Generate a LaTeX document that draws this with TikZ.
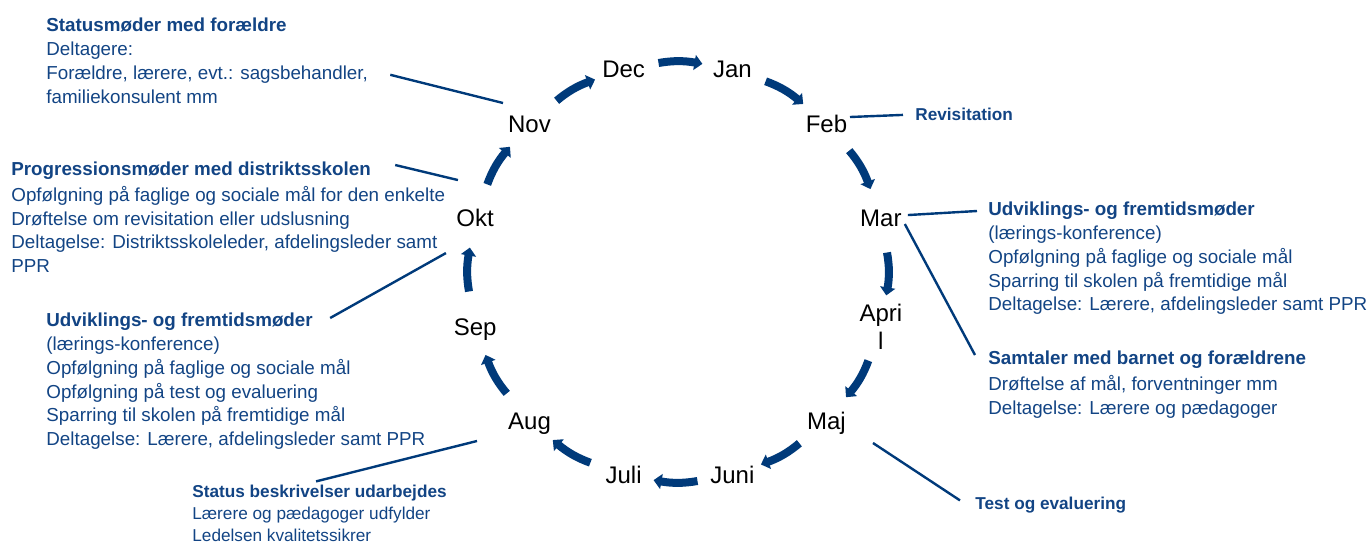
\documentclass[tikz,border=0pt]{standalone}
\usepackage{fontspec}
\setmainfont{Liberation Sans}
\usepackage{tikz}
\usetikzlibrary{arrows.meta,positioning}
\definecolor{arrblue}{RGB}{0,58,122}
\definecolor{txtblue}{RGB}{18,68,132}
\tikzset{month/.style={circle, minimum size=30pt, inner sep=0pt, font=\fontsize{12}{14}\selectfont, text height=8.7pt, text depth=0pt}}
\tikzset{arr/.style={draw=arrblue, line width=4pt, shorten <=2.5pt, -{Triangle[length=4pt,width=7.5pt]}}}
\tikzset{lead/.style={draw=arrblue, line width=1.2pt}}
\tikzset{head/.style={inner sep=0pt, anchor=base west, text=txtblue, font=\bfseries\fontsize{9.4}{11.8}\selectfont, text height=7pt, text depth=2.5pt}}
\tikzset{info/.style={inner sep=0pt, align=left, text=txtblue, font=\fontsize{9.4}{11.8}\selectfont}}
\tikzset{smallhead/.style={head, font=\bfseries\fontsize{8.6}{11}\selectfont, text height=6.4pt, text depth=2.3pt}}
\tikzset{smallinfo/.style={info, font=\fontsize{8.6}{11}\selectfont}}

\begin{document}
\begin{tikzpicture}[x=0.5pt,y=0.5pt]
\useasboundingbox (-678,272) rectangle (692,-271);
			\node [month] (dec) at (105:210)  {Dec};
			\node [month] (jan) at (75:210)   {Jan};
			\node [month] (feb) at (45:210)   {Feb};
			\node [month] (mar) at (15:210)   {Mar};
			\node [month, align=center, text height=, text depth=] (apr) at (-15:210) {Apri\\l};
			\node [month] (maj) at (-45:210)  {Maj};
			\node [month] (jun) at (-75:210)  {Juni};
			\node [month] (jul) at (-105:210) {Juli};
			\node [month] (aug) at (-135:210) {Aug};
			\node [month] (sep) at (-165:210) {Sep};
			\node [month] (okt) at (165:210)  {Okt};
			\node [month] (nov) at (135:210)  {Nov};
			%
			\draw [arr] (nov) to[bend left=10] (dec);
			\draw [arr] (dec) to[bend left=10] (jan);
			\draw [arr] (jan) to[bend left=10] (feb);
			\draw [arr] (feb) to[bend left=10] (mar);
			\draw [arr] (mar) to[bend left=10] (apr);
			\draw [arr] (apr) to[bend left=10] (maj);
			\draw [arr] (maj) to[bend left=10] (jun);
			\draw [arr] (jun) to[bend left=10] (jul);
			\draw [arr] (jul) to[bend left=10] (aug);
			\draw [arr] (aug) to[bend left=10] (sep);
			\draw [arr] (sep) to[bend left=10] (okt);
			\draw [arr] (okt) to[bend left=10] (nov);
			%
			\node [head] (statT) at (-632,240.5) {Statusmøder med forældre};
			\node [info, below right=2.5pt and 0pt of statT.south west] (statB) {Deltagere:\\Forældre, lærere, evt.: sagsbehandler,\\familiekonsulent mm};
			\node [head] (progT) at (-667,96.5) {Progressionsmøder med distriktsskolen};
			\node [info, below right=2.5pt and 0pt of progT.south west] (progB) {Opfølgning på faglige og sociale mål for den enkelte\\Drøftelse om revisitation eller udslusning\\Deltagelse: Distriktsskoleleder, afdelingsleder samt\\PPR};
			\node [head] (udvAT) at (-632,-54.5) {Udviklings- og fremtidsmøder};
			\node [info, below right=2.5pt and 0pt of udvAT.south west] (udvAB) {(lærings-konference)\\Opfølgning på faglige og sociale mål\\Opfølgning på test og evaluering\\Sparring til skolen på fremtidige mål\\Deltagelse: Lærere, afdelingsleder samt PPR};
			\node [smallhead] (sbT) at (-486,-225) {Status beskrivelser udarbejdes};
			\node [smallinfo, below right=2.3pt and 0pt of sbT.south west] (sbB) {Lærere og pædagoger udfylder\\Ledelsen kvalitetssikrer};
			\node [smallhead] (revT) at (237,152) {Revisitation};
			\node [head] (udvBT) at (310,56.5) {Udviklings- og fremtidsmøder};
			\node [info, below right=2.5pt and 0pt of udvBT.south west] (udvBB) {(lærings-konference)\\Opfølgning på faglige og sociale mål\\Sparring til skolen på fremtidige mål\\Deltagelse: Lærere, afdelingsleder samt PPR};
			\node [head] (samT) at (310,-92.5) {Samtaler med barnet og forældrene};
			\node [info, below right=2.5pt and 0pt of samT.south west] (samB) {Drøftelse af mål, forventninger mm\\Deltagelse: Lærere og pædagoger};
			\node [smallhead] (testT) at (297,-237) {Test og evaluering};
			%
			\draw [lead] ([xshift=11pt,yshift=-1pt]statB.east) -- ([xshift=-13.25pt,yshift=10.25pt]nov.center);
			\draw [lead] ([xshift=12pt,yshift=3pt]progT.east) -- ([xshift=-8.6pt,yshift=18.8pt]okt.center);
			\draw [lead] ([xshift=8.5pt,yshift=2pt]udvAT.east) -- ([xshift=-14.6pt,yshift=-17.7pt]okt.center);
			\draw [lead] ([xshift=-1.75pt,yshift=1.2pt]sbT.north) -- ([xshift=-26.25pt,yshift=-10.25pt]aug.center);
			\draw [lead] ([xshift=11.75pt,yshift=3.25pt]feb.center) -- ([xshift=-6pt,yshift=0.5pt]revT.west);
			\draw [lead] ([xshift=13.5pt,yshift=1.3pt]mar.center) -- ([xshift=-5.5pt]udvBT.west);
			\draw [lead] ([xshift=12pt,yshift=-3.2pt]mar.center) -- ([xshift=-6.5pt,yshift=2.5pt]samT.west);
			\draw [lead] ([xshift=23.25pt,yshift=-11.25pt]maj.center) -- ([xshift=-7.5pt,yshift=2.25pt]testT.west);
\end{tikzpicture}
\end{document}
